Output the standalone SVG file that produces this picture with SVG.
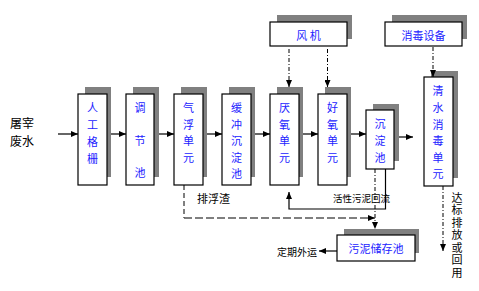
<svg xmlns="http://www.w3.org/2000/svg" width="479" height="291" viewBox="0 0 479 291">
<style>
.sh{fill:#808080;stroke:none}
.bx{fill:#fff;stroke:#000;stroke-width:1.2}
.bt{font-family:"Noto Sans CJK SC","Liberation Sans",sans-serif;font-size:11px;fill:#2222ff;text-anchor:middle}
.lt{font-family:"Noto Sans CJK SC","Liberation Sans",sans-serif;fill:#000}
.ar{stroke:#000;stroke-width:1.2;fill:none}
.dd{stroke:#000;stroke-width:1;fill:none;stroke-dasharray:4,2,1,2}
.ds{stroke:#000;stroke-width:1;fill:none;stroke-dasharray:5,3}
.dg{stroke:#555;stroke-width:1.5;fill:none;stroke-dasharray:8,3}
</style>
<defs>
<marker id="ah" markerWidth="7" markerHeight="6" refX="7" refY="3" orient="auto" markerUnits="userSpaceOnUse">
<path d="M0,0 L7,3 L0,6 Z" fill="#000"/>
</marker>
</defs>
<rect width="479" height="291" fill="#fff"/>

<g id="src">
<text class="lt" x="10" y="128" font-size="12">屠宰</text>
<text class="lt" x="10" y="146" font-size="12">废水</text>
</g>

<g id="n1">
<rect class="sh" x="85" y="87" width="26" height="90"/>
<rect class="bx" x="78" y="94" width="29" height="91"/>
<text class="bt"><tspan x="92.5" y="112">人</tspan><tspan x="92.5" y="129">工</tspan><tspan x="92.5" y="146">格</tspan><tspan x="92.5" y="163">栅</tspan></text>
</g>
<g id="n2">
<rect class="sh" x="133" y="87" width="26" height="90"/>
<rect class="bx" x="126" y="94" width="28" height="91"/>
<text class="bt"><tspan x="140" y="112">调</tspan><tspan x="140" y="145">节</tspan><tspan x="140" y="177">池</tspan></text>
</g>
<g id="n3">
<rect class="sh" x="181" y="87" width="26" height="90"/>
<rect class="bx" x="174" y="94" width="29" height="91"/>
<text class="bt"><tspan x="188.5" y="112">气</tspan><tspan x="188.5" y="128.5">浮</tspan><tspan x="188.5" y="145">单</tspan><tspan x="188.5" y="161.5">元</tspan></text>
</g>
<g id="n4">
<rect class="sh" x="229" y="87" width="26" height="90"/>
<rect class="bx" x="222" y="94" width="29" height="91"/>
<text class="bt"><tspan x="236.5" y="112">缓</tspan><tspan x="236.5" y="128.5">冲</tspan><tspan x="236.5" y="145">沉</tspan><tspan x="236.5" y="161.5">淀</tspan><tspan x="236.5" y="178">池</tspan></text>
</g>
<g id="n5">
<rect class="sh" x="277" y="87" width="26" height="90"/>
<rect class="bx" x="270" y="94" width="29" height="91"/>
<text class="bt"><tspan x="284.5" y="112">厌</tspan><tspan x="284.5" y="128.5">氧</tspan><tspan x="284.5" y="145">单</tspan><tspan x="284.5" y="161.5">元</tspan></text>
</g>
<g id="n6">
<rect class="sh" x="325" y="87" width="26" height="90"/>
<rect class="bx" x="318" y="94" width="29" height="91"/>
<text class="bt"><tspan x="332.5" y="112">好</tspan><tspan x="332.5" y="128.5">氧</tspan><tspan x="332.5" y="145">单</tspan><tspan x="332.5" y="161.5">元</tspan></text>
</g>
<g id="n7">
<rect class="sh" x="373" y="104" width="26" height="57"/>
<rect class="bx" x="366" y="110" width="28" height="59"/>
<text class="bt"><tspan x="380" y="128">沉</tspan><tspan x="380" y="145">淀</tspan><tspan x="380" y="162">池</tspan></text>
</g>
<g id="n8">
<rect class="sh" x="431" y="71" width="27" height="107"/>
<rect class="bx" x="424" y="77" width="29" height="109"/>
<text class="bt"><tspan x="438" y="95">清</tspan><tspan x="438" y="112">水</tspan><tspan x="438" y="128.5">消</tspan><tspan x="438" y="145">毒</tspan><tspan x="438" y="162">单</tspan><tspan x="438" y="178">元</tspan></text>
</g>
<g id="fan">
<rect class="sh" x="277" y="15" width="75" height="24"/>
<rect class="bx" x="270" y="22" width="77" height="24"/>
<text class="bt" x="308.5" y="39.5">风 机</text>
</g>
<g id="disinfect">
<rect class="sh" x="392" y="15" width="75" height="24"/>
<rect class="bx" x="385" y="22" width="77" height="24"/>
<text class="bt" x="423.5" y="39.5">消毒设备</text>
</g>
<g id="sludge">
<rect class="sh" x="344" y="229" width="75" height="24"/>
<rect class="bx" x="337" y="235" width="78" height="26"/>
<text class="bt" x="376" y="253">污泥储存池</text>
</g>

<g id="connectors">
<line class="ar" x1="58" y1="134" x2="78" y2="134" marker-end="url(#ah)"/>
<line class="ar" x1="111" y1="134" x2="126" y2="134" marker-end="url(#ah)"/>
<line class="ar" x1="159" y1="134" x2="174" y2="134" marker-end="url(#ah)"/>
<line class="ar" x1="207" y1="134" x2="222" y2="134" marker-end="url(#ah)"/>
<line class="ar" x1="255" y1="134" x2="270" y2="134" marker-end="url(#ah)"/>
<line class="ar" x1="303" y1="134" x2="318" y2="134" marker-end="url(#ah)"/>
<line class="ar" x1="351" y1="134" x2="366" y2="134" marker-end="url(#ah)"/>
<line class="ar" x1="399" y1="137" x2="413" y2="137" marker-end="url(#ah)"/>
<line class="dd" x1="289" y1="49" x2="289" y2="87" marker-end="url(#ah)"/>
<line class="dd" x1="327.5" y1="49" x2="327.5" y2="87" marker-end="url(#ah)"/>
<line class="dd" x1="433" y1="47" x2="433" y2="77" marker-end="url(#ah)"/>
<line class="dd" x1="443" y1="186" x2="443" y2="251" marker-end="url(#ah)"/>
<line class="dd" x1="375" y1="169" x2="375" y2="229" marker-end="url(#ah)"/>
<line class="ds" x1="184" y1="185" x2="184" y2="218"/>
<line class="dg" x1="184" y1="218" x2="375" y2="218" marker-end="url(#ah)"/>
<polyline class="ar" points="385.5,169 385.5,209 289,209 289,192" marker-end="url(#ah)"/>
<line class="ar" x1="337" y1="251" x2="319" y2="251" marker-end="url(#ah)"/>
</g>

<g id="labels">
<text class="lt" x="197" y="203" font-size="11">排浮渣</text>
<text class="lt" x="333" y="202" font-size="9.5">活性污泥回流</text>
<text class="lt" x="277" y="256" font-size="10">定期外运</text>
<text class="lt" x="457" y="192" font-size="11" writing-mode="vertical-rl" style="writing-mode:vertical-rl;letter-spacing:1.5px">达标排放或回用</text>
</g>
</svg>
